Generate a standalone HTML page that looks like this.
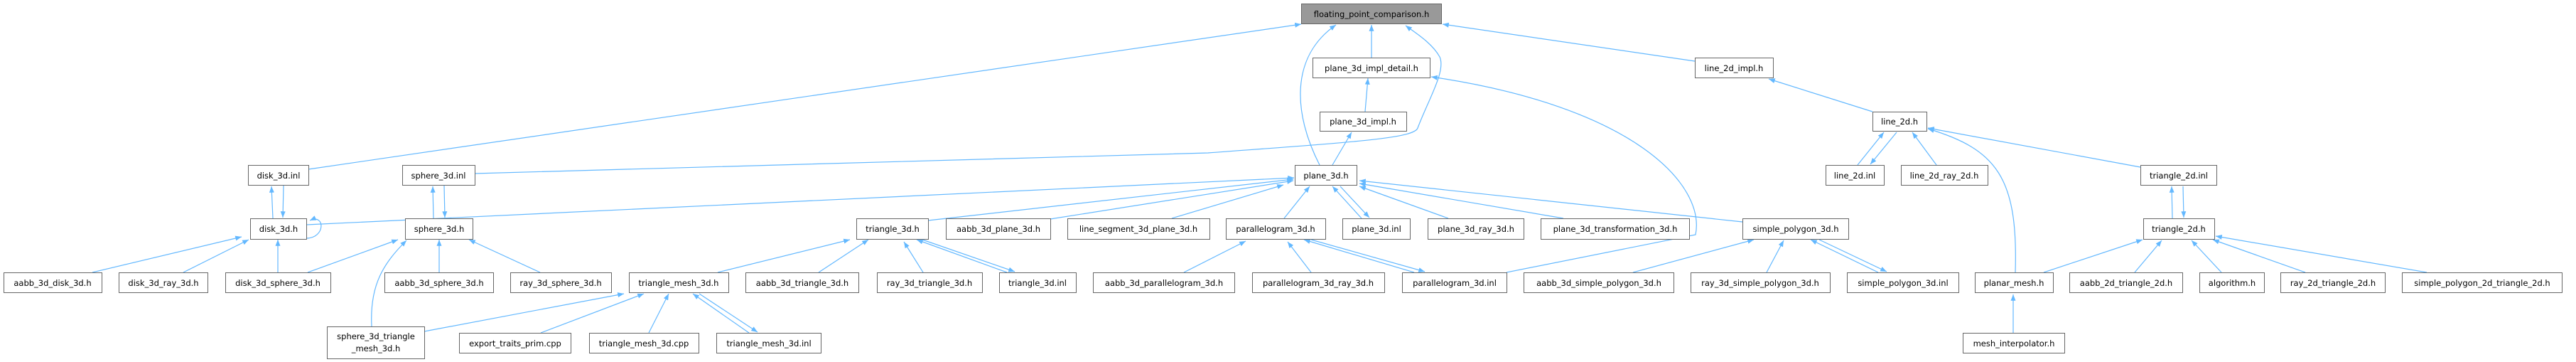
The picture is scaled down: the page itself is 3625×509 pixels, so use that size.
<!DOCTYPE html>
<html><head><meta charset="utf-8"><style>
html,body{margin:0;padding:0;background:#fff;}
svg{display:block}
.n rect{fill:#fff;stroke:#666;stroke-width:1}
.n text{font-family:"DejaVu Sans","Liberation Sans",sans-serif;font-size:11.5px;fill:#000;text-anchor:middle}
.e{stroke:#63b8ff;stroke-width:1.2;fill:none;marker-end:url(#a)}
</style></head><body>
<svg width="3625" height="509" viewBox="0 0 3625 509" xmlns="http://www.w3.org/2000/svg">
<defs><marker id="a" viewBox="0 0 10 8" refX="10" refY="4" markerWidth="9" markerHeight="7" orient="auto" markerUnits="userSpaceOnUse"><path d="M0,0 L10,4 L0,8 z" fill="#63b8ff"/></marker></defs>
<g>
<line class="e" x1="434" y1="238" x2="1831" y2="34"/>
<path class="e" d="M668,244 L1700,215 C1900,200 1990,195 1995,180 C2010,140 2035,100 2026,80 C2015,60 1990,45 1978,36"/>
<line class="e" x1="384" y1="307" x2="382" y2="262"/>
<line class="e" x1="399" y1="261" x2="398" y2="306"/>
<path class="e" d="M431,335 C458,335 458,300 436,310"/>
<line class="e" x1="431" y1="316" x2="1821" y2="250"/>
<line class="e" x1="610" y1="307" x2="609" y2="262"/>
<line class="e" x1="625" y1="261" x2="626" y2="306"/>
<line class="e" x1="130" y1="383" x2="340" y2="333"/>
<line class="e" x1="258" y1="383" x2="350" y2="337"/>
<line class="e" x1="391" y1="383" x2="391" y2="337"/>
<line class="e" x1="433" y1="383" x2="560" y2="337"/>
<path class="e" d="M523,459 C520,400 540,370 572,338"/>
<line class="e" x1="618" y1="383" x2="618" y2="337"/>
<line class="e" x1="760" y1="383" x2="660" y2="337"/>
<line class="e" x1="1010" y1="383" x2="1196" y2="337"/>
<line class="e" x1="1152" y1="383" x2="1222" y2="337"/>
<line class="e" x1="1299" y1="383" x2="1272" y2="340"/>
<line class="e" x1="1417" y1="383" x2="1290" y2="337"/>
<line class="e" x1="1298" y1="337" x2="1428" y2="382"/>
<line class="e" x1="597" y1="466" x2="878" y2="413"/>
<line class="e" x1="761" y1="468" x2="906" y2="413"/>
<line class="e" x1="913" y1="468" x2="941" y2="413"/>
<line class="e" x1="1054" y1="468" x2="975" y2="413"/>
<line class="e" x1="984" y1="413" x2="1066" y2="467"/>
<line class="e" x1="1306" y1="310" x2="1820" y2="252"/>
<line class="e" x1="1478" y1="308" x2="1820" y2="254"/>
<line class="e" x1="1649" y1="307" x2="1806" y2="260"/>
<line class="e" x1="1807" y1="307" x2="1843" y2="262"/>
<line class="e" x1="1916" y1="307" x2="1875" y2="262"/>
<line class="e" x1="1886" y1="262" x2="1927" y2="306"/>
<line class="e" x1="2038" y1="307" x2="1913" y2="262"/>
<line class="e" x1="2200" y1="307" x2="1913" y2="258"/>
<line class="e" x1="2452" y1="312" x2="1913" y2="254"/>
<line class="e" x1="1666" y1="383" x2="1753" y2="339"/>
<line class="e" x1="1845" y1="383" x2="1812" y2="340"/>
<line class="e" x1="1990" y1="383" x2="1835" y2="337"/>
<line class="e" x1="1845" y1="337" x2="2005" y2="382"/>
<path class="e" d="M2120,383 L2386,330 C2400,260 2300,150 2014,108"/>
<line class="e" x1="2298" y1="383" x2="2468" y2="337"/>
<line class="e" x1="2486" y1="383" x2="2510" y2="338"/>
<line class="e" x1="2643" y1="383" x2="2548" y2="337"/>
<line class="e" x1="2560" y1="337" x2="2655" y2="382"/>
<line class="e" x1="2614" y1="232" x2="2651" y2="186"/>
<line class="e" x1="2669" y1="186" x2="2632" y2="231"/>
<line class="e" x1="2725" y1="232" x2="2691" y2="186"/>
<line class="e" x1="3012" y1="235" x2="2713" y2="180"/>
<path class="e" d="M2836,383 C2840,250 2810,210 2713,181"/>
<line class="e" x1="3057" y1="307" x2="3056" y2="262"/>
<line class="e" x1="3072" y1="262" x2="3073" y2="306"/>
<line class="e" x1="2876" y1="383" x2="3015" y2="337"/>
<line class="e" x1="3004" y1="383" x2="3042" y2="338"/>
<line class="e" x1="3126" y1="383" x2="3084" y2="338"/>
<line class="e" x1="3244" y1="383" x2="3114" y2="337"/>
<line class="e" x1="3415" y1="383" x2="3118" y2="332"/>
<line class="e" x1="2833" y1="468" x2="2833" y2="414"/>
<line class="e" x1="2635" y1="157" x2="2489" y2="111"/>
<line class="e" x1="2385" y1="86" x2="2030" y2="34"/>
<line class="e" x1="1930" y1="81" x2="1930" y2="35"/>
<line class="e" x1="1921" y1="157" x2="1925" y2="110"/>
<line class="e" x1="1875" y1="232" x2="1902" y2="186"/>
<path class="e" d="M1857,232 C1820,160 1815,80 1880,35"/>
</g>
<g class="n">
<rect x="1831.5" y="5.5" width="197" height="28" style="fill:#999"/><text x="1930" y="24">floating_point_comparison.h</text>
<rect x="1847.5" y="81.5" width="165" height="28"/><text x="1930" y="100">plane_3d_impl_detail.h</text>
<rect x="2385.5" y="81.5" width="110" height="28"/><text x="2440" y="100">line_2d_impl.h</text>
<rect x="1857.5" y="157.5" width="122" height="27"/><text x="1918" y="175">plane_3d_impl.h</text>
<rect x="2635.5" y="157.5" width="76" height="27"/><text x="2673" y="175">line_2d.h</text>
<rect x="349.5" y="232.5" width="85" height="28"/><text x="392" y="251">disk_3d.inl</text>
<rect x="566.5" y="232.5" width="102" height="28"/><text x="617" y="251">sphere_3d.inl</text>
<rect x="1822.5" y="232.5" width="87" height="28"/><text x="1866" y="251">plane_3d.h</text>
<rect x="2569.5" y="232.5" width="82" height="28"/><text x="2610" y="251">line_2d.inl</text>
<rect x="2675.5" y="232.5" width="122" height="28"/><text x="2736" y="251">line_2d_ray_2d.h</text>
<rect x="3012.5" y="232.5" width="107" height="28"/><text x="3066" y="251">triangle_2d.inl</text>
<rect x="352.5" y="307.5" width="79" height="29"/><text x="392" y="326">disk_3d.h</text>
<rect x="570.5" y="307.5" width="95" height="29"/><text x="618" y="326">sphere_3d.h</text>
<rect x="1205.5" y="307.5" width="101" height="29"/><text x="1256" y="326">triangle_3d.h</text>
<rect x="1331.5" y="307.5" width="147" height="29"/><text x="1405" y="326">aabb_3d_plane_3d.h</text>
<rect x="1502.5" y="307.5" width="200" height="29"/><text x="1602" y="326">line_segment_3d_plane_3d.h</text>
<rect x="1725.5" y="307.5" width="140" height="29"/><text x="1795" y="326">parallelogram_3d.h</text>
<rect x="1889.5" y="307.5" width="95" height="29"/><text x="1937" y="326">plane_3d.inl</text>
<rect x="2009.5" y="307.5" width="135" height="29"/><text x="2077" y="326">plane_3d_ray_3d.h</text>
<rect x="2168.5" y="307.5" width="209" height="29"/><text x="2273" y="326">plane_3d_transformation_3d.h</text>
<rect x="2452.5" y="307.5" width="149" height="29"/><text x="2527" y="326">simple_polygon_3d.h</text>
<rect x="3016.5" y="307.5" width="100" height="29"/><text x="3066" y="326">triangle_2d.h</text>
<rect x="5.5" y="383.5" width="138" height="28"/><text x="74" y="402">aabb_3d_disk_3d.h</text>
<rect x="167.5" y="383.5" width="125" height="28"/><text x="230" y="402">disk_3d_ray_3d.h</text>
<rect x="317.5" y="383.5" width="148" height="28"/><text x="391" y="402">disk_3d_sphere_3d.h</text>
<rect x="541.5" y="383.5" width="153" height="28"/><text x="618" y="402">aabb_3d_sphere_3d.h</text>
<rect x="718.5" y="383.5" width="142" height="28"/><text x="789" y="402">ray_3d_sphere_3d.h</text>
<rect x="885.5" y="383.5" width="140" height="28"/><text x="955" y="402">triangle_mesh_3d.h</text>
<rect x="1049.5" y="383.5" width="159" height="28"/><text x="1129" y="402">aabb_3d_triangle_3d.h</text>
<rect x="1234.5" y="383.5" width="148" height="28"/><text x="1308" y="402">ray_3d_triangle_3d.h</text>
<rect x="1406.5" y="383.5" width="108" height="28"/><text x="1460" y="402">triangle_3d.inl</text>
<rect x="1538.5" y="383.5" width="199" height="28"/><text x="1638" y="402">aabb_3d_parallelogram_3d.h</text>
<rect x="1762.5" y="383.5" width="186" height="28"/><text x="1855" y="402">parallelogram_3d_ray_3d.h</text>
<rect x="1973.5" y="383.5" width="147" height="28"/><text x="2047" y="402">parallelogram_3d.inl</text>
<rect x="2144.5" y="383.5" width="211" height="28"/><text x="2250" y="402">aabb_3d_simple_polygon_3d.h</text>
<rect x="2379.5" y="383.5" width="196" height="28"/><text x="2477" y="402">ray_3d_simple_polygon_3d.h</text>
<rect x="2599.5" y="383.5" width="157" height="28"/><text x="2678" y="402">simple_polygon_3d.inl</text>
<rect x="2779.5" y="383.5" width="110" height="28"/><text x="2834" y="402">planar_mesh.h</text>
<rect x="2912.5" y="383.5" width="159" height="28"/><text x="2992" y="402">aabb_2d_triangle_2d.h</text>
<rect x="3095.5" y="383.5" width="91" height="28"/><text x="3141" y="402">algorithm.h</text>
<rect x="3209.5" y="383.5" width="147" height="28"/><text x="3283" y="402">ray_2d_triangle_2d.h</text>
<rect x="3380.5" y="383.5" width="225" height="28"/><text x="3493" y="402">simple_polygon_2d_triangle_2d.h</text>
<rect x="460.5" y="459.5" width="137" height="45"/><text x="529" y="477">sphere_3d_triangle</text><text x="529" y="494">_mesh_3d.h</text>
<rect x="646.5" y="468.5" width="157" height="28"/><text x="725" y="487">export_traits_prim.cpp</text>
<rect x="829.5" y="468.5" width="154" height="28"/><text x="906" y="487">triangle_mesh_3d.cpp</text>
<rect x="1008.5" y="468.5" width="147" height="28"/><text x="1082" y="487">triangle_mesh_3d.inl</text>
<rect x="2762.5" y="468.5" width="143" height="28"/><text x="2834" y="487">mesh_interpolator.h</text>
</g>
</svg>
</body></html>
